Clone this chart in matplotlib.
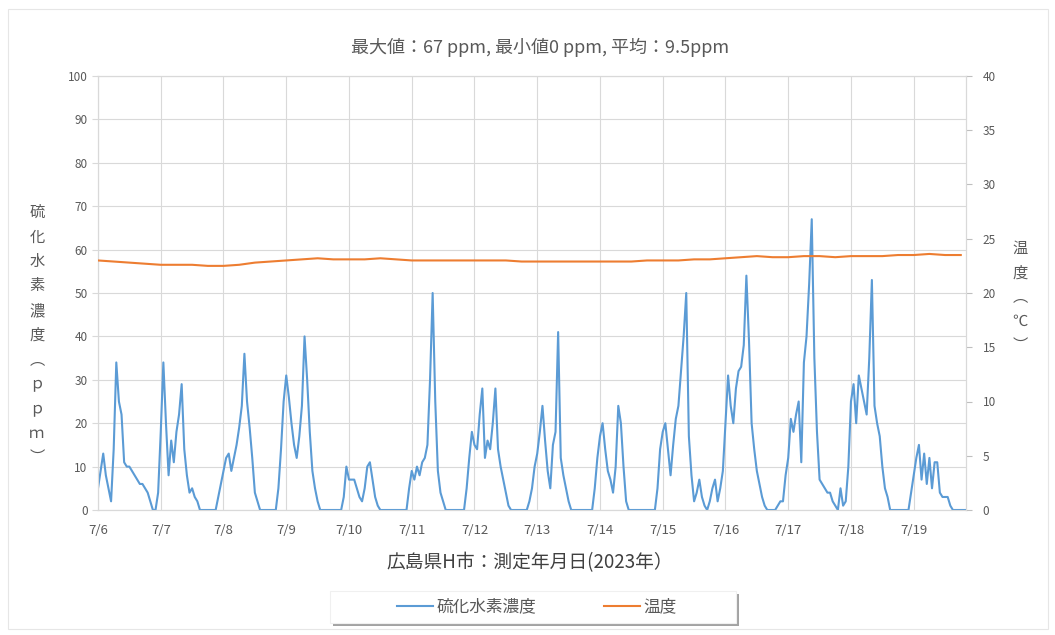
import matplotlib
matplotlib.use("Agg")
import matplotlib.pyplot as plt
import matplotlib.dates as mdates
import matplotlib.ticker as mticker
import numpy as np
import pandas as pd
from matplotlib.patches import Rectangle
from matplotlib.lines import Line2D

plt.rcParams['font.family'] = ['Noto Sans CJK JP', 'DejaVu Sans']

# ---- data: hourly H2S concentration (ppm), one list per day ----
h2s_0706 = [5, 9, 13, 8, 5, 2, 14, 34, 25, 22, 11, 10, 10, 9, 8, 7, 6, 6, 5, 4, 2, 0, 0, 4]
h2s_0707 = [18, 34, 20, 8, 16, 11, 18, 22, 29, 14, 8, 4, 5, 3, 2, 0, 0, 0, 0, 0, 0, 0, 3, 6]
h2s_0708 = [9, 12, 13, 9, 12, 15, 19, 24, 36, 25, 19, 12, 4, 2, 0, 0, 0, 0, 0, 0, 0, 5, 14, 25]
h2s_0709 = [31, 26, 20, 15, 12, 17, 24, 40, 30, 18, 9, 5, 2, 0, 0, 0, 0, 0, 0, 0, 0, 0, 3, 10]
h2s_0710 = [7, 7, 7, 5, 3, 2, 5, 10, 11, 7, 3, 1, 0, 0, 0, 0, 0, 0, 0, 0, 0, 0, 0, 5]
h2s_0711 = [9, 7, 10, 8, 11, 12, 15, 30, 50, 25, 9, 4, 2, 0, 0, 0, 0, 0, 0, 0, 0, 5, 12, 18]
h2s_0712 = [15, 14, 22, 28, 12, 16, 14, 20, 28, 14, 10, 7, 4, 1, 0, 0, 0, 0, 0, 0, 0, 2, 5, 10]
h2s_0713 = [13, 18, 24, 16, 9, 5, 15, 18, 41, 12, 8, 5, 2, 0, 0, 0, 0, 0, 0, 0, 0, 0, 5, 12]
h2s_0714 = [17, 20, 14, 9, 7, 4, 10, 24, 20, 10, 2, 0, 0, 0, 0, 0, 0, 0, 0, 0, 0, 0, 5, 14]
h2s_0715 = [18, 20, 14, 8, 15, 21, 24, 32, 40, 50, 17, 8, 2, 4, 7, 3, 1, 0, 2, 5, 7, 2, 5, 9]
h2s_0716 = [20, 31, 24, 20, 28, 32, 33, 38, 54, 39, 20, 14, 9, 6, 3, 1, 0, 0, 0, 0, 1, 2, 2, 8]
h2s_0717 = [12, 21, 18, 22, 25, 11, 34, 40, 52, 67, 35, 18, 7, 6, 5, 4, 4, 2, 1, 0, 5, 1, 2, 10]
h2s_0718 = [25, 29, 20, 31, 28, 25, 22, 35, 53, 24, 20, 17, 10, 5, 3, 0, 0, 0, 0, 0, 0, 0, 0, 4]
h2s_0719 = [8, 12, 15, 7, 13, 6, 12, 5, 11, 11, 4, 3, 3, 3, 1, 0, 0, 0, 0, 0, 0]

# ---- data: temperature (deg C), every 6 hours from 7/6 00:00 ----
temp_6h = [23.0, 22.9, 22.8, 22.7, 22.6, 22.6, 22.6, 22.5, 22.5, 22.6, 22.8, 22.9,
           23.0, 23.1, 23.2, 23.1, 23.1, 23.1, 23.2, 23.1, 23.0, 23.0, 23.0, 23.0,
           23.0, 23.0, 23.0, 22.9, 22.9, 22.9, 22.9, 22.9, 22.9, 22.9, 22.9, 23.0,
           23.0, 23.0, 23.1, 23.1, 23.2, 23.3, 23.4, 23.3, 23.3, 23.4, 23.4, 23.3,
           23.4, 23.4, 23.4, 23.5, 23.5, 23.6, 23.5, 23.5]

title_text = "最大値：67 ppm, 最小値0 ppm, 平均：9.5ppm"
xlabel_text = "広島県H市：測定年月日(2023年）"
ylabel_chars = ["硫", "化", "水", "素", "濃", "度", "︵", "ｐ", "ｐ", "ｍ", "︶"]
y2label_chars = ["温", "度", "︵", "℃", "︶"]
legend_labels = ["硫化水素濃度", "温度"]

h2s = (h2s_0706 + h2s_0707 + h2s_0708 + h2s_0709 + h2s_0710 + h2s_0711 + h2s_0712 +
       h2s_0713 + h2s_0714 + h2s_0715 + h2s_0716 + h2s_0717 + h2s_0718 + h2s_0719)
t0 = pd.Timestamp("2023-07-06 00:00")
times = pd.date_range(t0, periods=len(h2s), freq="h")
ttimes = pd.date_range(t0, periods=len(temp_6h), freq="6h")

BLUE = '#5b9bd5'
ORANGE = '#ed7d31'
GRID = '#d9d9d9'
TXT = '#595959'

W, H = 1055, 635
fig = plt.figure(figsize=(W / 100, H / 100), dpi=100)

# outer chart border
fig.patches.append(Rectangle((8 / W, 6 / H), 1040 / W, 620 / H, transform=fig.transFigure,
                             fill=False, edgecolor='#e6e6e6', lw=0.8, zorder=0))

ax = fig.add_axes([98 / W, 1 - 510 / H, (966 - 98) / W, (510 - 76) / H])
ax2 = ax.twinx()

ax.plot(times, h2s, color=BLUE, lw=1.5, zorder=3)
ax2.plot(ttimes, temp_6h, color=ORANGE, lw=1.5, zorder=3)

ax.set_xlim(t0, times[-1])
ax.set_ylim(0, 100)
ax2.set_ylim(0, 40)
ax.set_yticks(np.arange(0, 101, 10))
ax2.set_yticks(np.arange(0, 41, 5))

ax.xaxis.set_major_locator(mdates.DayLocator())
ax.xaxis.set_major_formatter(mticker.FuncFormatter(
    lambda v, p: f"{mdates.num2date(v).month}/{mdates.num2date(v).day}"))

ax.grid(True, color=GRID, lw=0.8)
ax.set_axisbelow(True)
for a in (ax, ax2):
    for s in a.spines.values():
        s.set_color(GRID)
        s.set_linewidth(0.8)

ax.tick_params(axis='y', labelsize=8.5, labelcolor=TXT, color=GRID, length=4)
ax.tick_params(axis='x', labelsize=9.5, labelcolor=TXT, length=0, pad=10)
ax2.tick_params(axis='y', labelsize=8.5, labelcolor=TXT, color='#bfbfbf', length=4, pad=8)
for lb in ax.get_xticklabels():
    lb.set_fontstyle('italic')

fig.text(540 / W, 1 - 47 / H, title_text, ha='center', va='center', fontsize=13, color=TXT)
fig.text(530 / W, 1 - 563 / H, xlabel_text, ha='center', va='center', fontsize=13.5, color='#404040')
fig.text(37 / W, 1 - 335 / H, "\n".join(ylabel_chars), ha='center', va='center',
         fontsize=11, color=TXT, linespacing=1.58)
fig.text(1020 / W, 1 - 297 / H, "\n".join(y2label_chars), ha='center', va='center',
         fontsize=11, color=TXT, linespacing=1.56)

# legend box with shadow
fig.patches.append(Rectangle((333 / W, 1 - 626 / H), 406 / W, 32 / H, transform=fig.transFigure,
                             facecolor='#8c8c8c', edgecolor='none', alpha=0.8, zorder=1))
fig.patches.append(Rectangle((330 / W, 1 - 623 / H), 406 / W, 32 / H, transform=fig.transFigure,
                             facecolor='white', edgecolor='#f0f0f0', lw=0.8, zorder=2))
handles = [Line2D([], [], color=BLUE, lw=1.5), Line2D([], [], color=ORANGE, lw=1.5)]
leg = fig.legend(handles, legend_labels, loc='center', bbox_to_anchor=(537 / W, 1 - 607 / H),
                 ncol=2, frameon=False, handlelength=2.15, handletextpad=0.2,
                 columnspacing=4.1, fontsize=12)
for t in leg.get_texts():
    t.set_color(TXT)

fig.savefig("out.png", dpi=100, facecolor='white')
